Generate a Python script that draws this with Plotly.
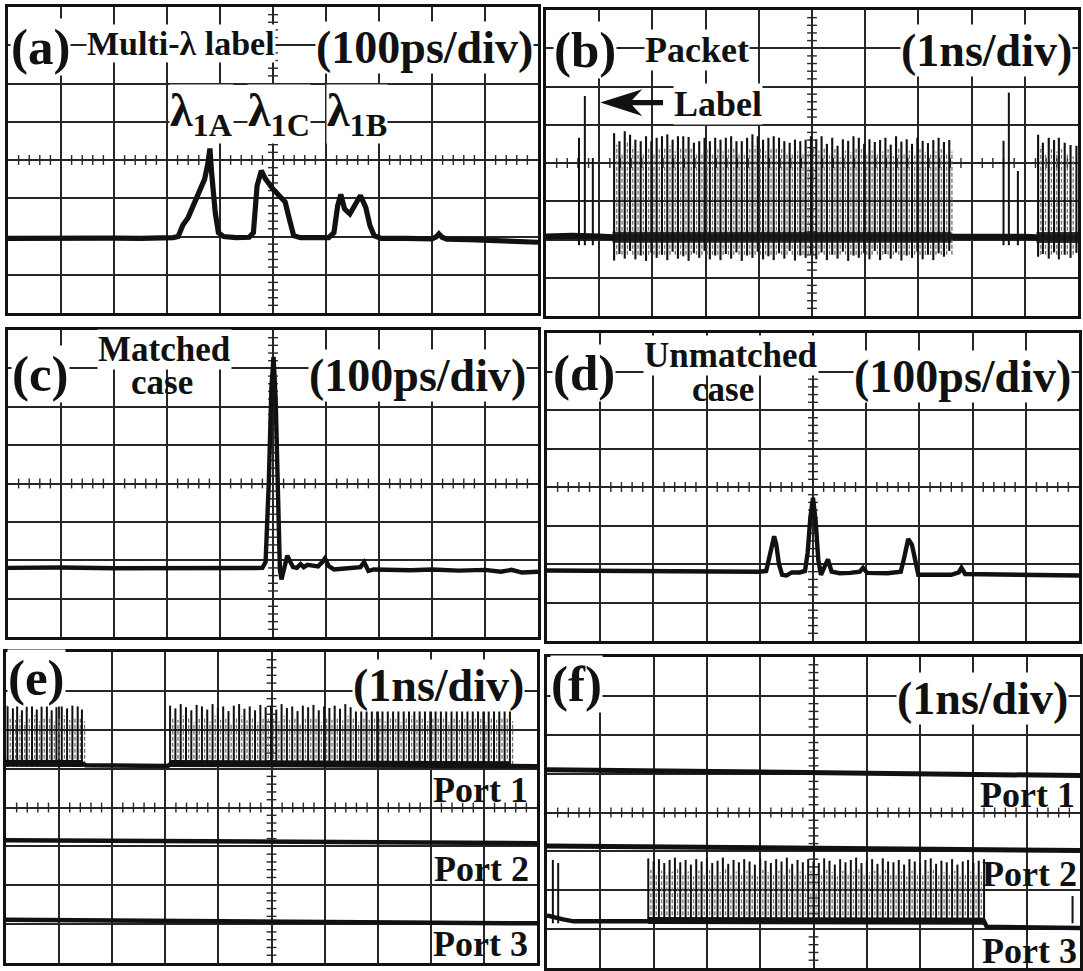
import plotly.graph_objects as go

# ---------------- data (oscilloscope divisions: x 0-10 div, y 0-8 div) ----------------
# (a) multi-wavelength label, 100 ps/div
a_time = [0.0, 0.5, 1.0, 1.5, 2.0, 2.5, 3.0, 3.12, 3.21, 3.3, 3.4, 3.5, 3.61, 3.71, 3.77, 3.81, 3.84, 3.91, 3.97, 4.07,
          4.3, 4.55, 4.63, 4.7, 4.78, 4.86, 5.0, 5.13, 5.23, 5.31, 5.39, 5.52,
          5.8, 6.05, 6.15, 6.22, 6.28, 6.35, 6.45, 6.55, 6.65, 6.75, 6.83, 6.91, 7.04,
          7.5, 8.0, 8.08, 8.13, 8.19, 8.28, 8.7, 9.2, 9.6, 10.0]
a_level = [1.95, 1.96, 1.94, 1.95, 1.96, 1.95, 1.95, 1.97, 2.0, 2.3, 2.5, 2.8, 3.15, 3.5, 3.9, 4.3, 3.7, 2.63, 2.1, 2.0,
           1.97, 1.98, 2.1, 3.33, 3.72, 3.5, 3.24, 3.07, 2.9, 2.45, 2.02, 1.97,
           1.96, 1.97, 2.1, 2.8, 3.1, 2.72, 2.59, 2.8, 3.07, 2.76, 2.28, 2.02, 1.95,
           1.95, 1.94, 1.99, 2.07, 1.98, 1.93, 1.92, 1.9, 1.87, 1.85]

# (b) packet with label, 1 ns/div
b_label_time = [0.62, 0.73, 0.88, 8.60, 8.70, 8.87]
b_label_peak = [4.66, 5.75, 4.13, 4.58, 5.84, 3.79]
b_payload_time = [1.28, 1.38, 1.48, 1.58, 1.68, 1.78, 1.88, 1.98, 2.08, 2.18,
                  2.28, 2.38, 2.48, 2.58, 2.68, 2.78, 2.88, 2.98, 3.08, 3.18,
                  3.28, 3.38, 3.48, 3.58, 3.68, 3.78, 3.88, 3.98, 4.08, 4.18,
                  4.28, 4.38, 4.48, 4.58, 4.68, 4.78, 4.88, 4.98, 5.08, 5.18,
                  5.28, 5.38, 5.48, 5.58, 5.68, 5.78, 5.88, 5.98, 6.08, 6.18,
                  6.28, 6.38, 6.48, 6.58, 6.68, 6.78, 6.88, 6.98, 7.08, 7.18,
                  7.28, 7.38, 7.48, 7.58,
                  9.25, 9.34, 9.45, 9.55, 9.64, 9.75, 9.86, 9.97]
b_payload_peak = [4.78, 4.57, 4.83, 4.74, 4.61, 4.57, 4.70, 4.57, 4.66, 4.70,
                  4.75, 4.61, 4.70, 4.70, 4.68, 4.53, 4.57, 4.66, 4.57, 4.66,
                  4.61, 4.66, 4.70, 4.57, 4.57, 4.66, 4.75, 4.70, 4.61, 4.66,
                  4.70, 4.66, 4.57, 4.53, 4.61, 4.57, 4.61, 4.70, 4.62, 4.70,
                  4.50, 4.66, 4.45, 4.62, 4.58, 4.70, 4.66, 4.50, 4.62, 4.55,
                  4.60, 4.66, 4.48, 4.70, 4.56, 4.62, 4.50, 4.66, 4.58, 4.52,
                  4.60, 4.66, 4.55, 4.60,
                  4.74, 4.53, 4.66, 4.60, 4.66, 4.53, 4.47, 4.45]
b_payload_floor = [1.45, 1.62, 1.50, 1.70, 1.48, 1.58, 1.44, 1.66, 1.52, 1.60,
                   1.46, 1.68, 1.50, 1.56, 1.44, 1.64, 1.52, 1.70, 1.48, 1.58,
                   1.46, 1.62, 1.50, 1.66, 1.44, 1.58, 1.52, 1.68, 1.48, 1.56,
                   1.46, 1.64, 1.50, 1.70, 1.45, 1.58, 1.52, 1.62, 1.48, 1.66,
                   1.46, 1.60, 1.50, 1.68, 1.44, 1.58, 1.52, 1.64, 1.48, 1.70,
                   1.46, 1.62, 1.50, 1.66, 1.45, 1.58, 1.52, 1.68, 1.48, 1.60,
                   1.46, 1.64, 1.55, 1.70,
                   1.55, 1.62, 1.50, 1.66, 1.48, 1.60, 1.52, 1.65]
b_base_time = [0.0, 0.5, 1.0, 1.25, 7.62, 8.2, 8.55, 9.0, 9.22, 10.0]
b_base_level = [2.08, 2.10, 2.08, 2.06, 2.07, 2.08, 2.10, 2.07, 2.06, 2.05]
b_band_time = [1.25, 4.5, 7.62, None, 9.22, 10.0]
b_band_level = [2.06, 2.07, 2.06, None, 2.05, 2.05]

# (c) matched case, 100 ps/div
c_time = [0.0, 1.0, 2.0, 3.0, 4.0, 4.8, 4.86, 4.92, 4.97, 5.01, 5.05, 5.09, 5.13, 5.16, 5.2,
          5.27, 5.33, 5.38, 5.45, 5.52, 5.58, 5.65, 5.75, 5.85, 5.93, 5.98, 6.05, 6.15, 6.3, 6.5,
          6.65, 6.72, 6.8, 6.9, 7.2, 7.6, 8.0, 8.5, 9.0, 9.3, 9.5, 9.7, 10.0]
c_level = [1.80, 1.81, 1.79, 1.80, 1.79, 1.80, 1.95, 4.0, 6.5, 7.3, 6.2, 3.5, 1.75, 1.5, 1.75,
           2.12, 1.95, 1.82, 1.80, 1.90, 1.82, 1.88, 1.86, 1.84, 1.95, 2.05, 1.85, 1.76, 1.78, 1.80,
           1.82, 1.95, 1.72, 1.76, 1.75, 1.74, 1.76, 1.73, 1.75, 1.70, 1.75, 1.68, 1.70]

# (d) unmatched case, 100 ps/div
d_time = [0.0, 1.0, 2.0, 3.0, 4.0, 4.12, 4.18, 4.23, 4.27, 4.31, 4.36, 4.42, 4.5, 4.6, 4.75,
          4.85, 4.9, 4.95, 5.0, 5.05, 5.1, 5.15, 5.22, 5.28, 5.35, 5.5, 5.7, 5.88, 5.94, 6.02,
          6.4, 6.65, 6.72, 6.79, 6.86, 6.92, 6.98, 7.2, 7.6, 7.74, 7.79, 7.86, 8.5, 9.0, 10.0]
d_level = [1.83, 1.82, 1.81, 1.81, 1.80, 1.82, 2.2, 2.6, 2.72, 2.5, 2.0, 1.72, 1.70, 1.78, 1.78,
           1.82, 2.3, 3.2, 3.72, 3.1, 2.1, 1.72, 1.95, 2.12, 1.80, 1.76, 1.77, 1.80, 1.90, 1.77,
           1.76, 1.80, 2.2, 2.65, 2.5, 2.05, 1.72, 1.72, 1.72, 1.78, 1.90, 1.74, 1.72, 1.72, 1.70]

# (e) port outputs (matched), 1 ns/div
e_payload_time = [0.03, 0.13, 0.21, 0.30, 0.39, 0.49, 0.58, 0.67, 0.77, 0.86,
                  0.95, 1.05, 1.15, 1.25, 1.35, 1.43,
                  3.09, 3.19, 3.29, 3.39, 3.49, 3.59, 3.69, 3.79, 3.89, 3.99,
                  4.09, 4.19, 4.29, 4.39, 4.49, 4.59, 4.69, 4.79, 4.89, 4.99,
                  5.09, 5.19, 5.29, 5.39, 5.49, 5.59, 5.69, 5.79, 5.89, 5.99,
                  6.09, 6.19, 6.29, 6.39, 6.49, 6.59, 6.69, 6.79, 6.89, 6.99,
                  7.09, 7.19, 7.29, 7.39, 7.49, 7.59, 7.69, 7.79, 7.89, 7.99,
                  8.09, 8.19, 8.29, 8.39, 8.49, 8.59, 8.69, 8.79, 8.89, 8.99,
                  9.09, 9.19, 9.29, 9.39, 9.49]
e_payload_peak = [6.62, 6.55, 6.66, 6.50, 6.60, 6.68, 6.52, 6.60, 6.64, 6.50,
                  6.58, 6.66, 6.55, 6.62, 6.60, 6.52,
                  6.62, 6.55, 6.66, 6.58, 6.50, 6.64, 6.60, 6.52, 6.66, 6.56,
                  6.60, 6.48, 6.62, 6.66, 6.54, 6.60, 6.50, 6.64, 6.58, 6.62,
                  6.52, 6.66, 6.56, 6.60, 6.48, 6.62, 6.58, 6.64, 6.50, 6.60,
                  6.56, 6.62, 6.54, 6.66, 6.58, 6.50, 6.62, 6.56, 6.60, 6.64,
                  6.52, 6.58, 6.62, 6.50, 6.60, 6.66, 6.56, 6.60, 6.52, 6.62,
                  6.58, 6.64, 6.50, 6.60, 6.56, 6.62, 6.54, 6.58, 6.64, 6.50,
                  6.60, 6.56, 6.62, 6.58, 6.52]
e_port1_time = [0.0, 1.45, 1.5, 3.05, 3.1, 9.5, 9.55, 10.0]
e_port1_level = [5.13, 5.12, 5.09, 5.07, 5.12, 5.09, 5.07, 5.06]
e_band_time = [0.0, 1.45, None, 3.09, 9.5]
e_band_level = [5.14, 5.13, None, 5.13, 5.10]
e_port2_time = [0.0, 5.0, 10.0]
e_port2_level = [3.16, 3.12, 3.08]
e_port3_time = [0.0, 5.0, 10.0]
e_port3_level = [1.11, 1.07, 1.02]

# (f) port outputs (unmatched), 1 ns/div
f_port1_time = [0.0, 5.0, 10.0]
f_port1_level = [5.10, 5.02, 4.95]
f_port2_time = [0.0, 5.0, 10.0]
f_port2_level = [3.14, 3.08, 3.02]
f_port3_time = [0.0, 0.08, 0.3, 0.5, 1.0, 1.88, 1.92, 8.2, 8.25, 9.0, 9.8, 10.0]
f_port3_level = [1.35, 1.32, 1.25, 1.2, 1.19, 1.2, 1.22, 1.2, 1.06, 1.05, 1.03, 1.03]
f_band_time = [1.9, 5.0, 8.2]
f_band_level = [1.22, 1.21, 1.2]
f_payload_time = [0.11, 0.21,
                  1.90, 2.00, 2.10, 2.20, 2.30, 2.40, 2.50, 2.60, 2.70, 2.80,
                  2.90, 3.00, 3.10, 3.20, 3.30, 3.40, 3.50, 3.60, 3.70, 3.80,
                  3.90, 4.00, 4.10, 4.20, 4.30, 4.40, 4.50, 4.60, 4.70, 4.80,
                  4.90, 5.00, 5.10, 5.20, 5.30, 5.40, 5.50, 5.60, 5.70, 5.80,
                  5.90, 6.00, 6.10, 6.20, 6.30, 6.40, 6.50, 6.60, 6.70, 6.80,
                  6.90, 7.00, 7.10, 7.20, 7.30, 7.40, 7.50, 7.60, 7.70, 7.80,
                  7.90, 8.00, 8.10, 8.20,
                  9.86]
f_payload_peak = [2.78, 2.70,
                  2.82, 2.74, 2.80, 2.70, 2.78, 2.84, 2.72, 2.78, 2.66, 2.80,
                  2.74, 2.82, 2.70, 2.76, 2.84, 2.68, 2.78, 2.72, 2.80, 2.74,
                  2.66, 2.82, 2.76, 2.70, 2.80, 2.74, 2.84, 2.68, 2.78, 2.72,
                  2.80, 2.74, 2.70, 2.82, 2.76, 2.66, 2.80, 2.72, 2.78, 2.84,
                  2.70, 2.76, 2.80, 2.68, 2.82, 2.74, 2.72, 2.78, 2.66, 2.80,
                  2.74, 2.70, 2.78, 2.82, 2.68, 2.76, 2.72, 2.80, 2.66, 2.74,
                  2.78, 2.70, 2.76, 2.80,
                  1.85]

# ---------------- layout of the six screens (pixels: left, right, top, bottom) ----------------
W, H = 1083, 971
PANELS = [(8, 538, 7, 313), (546, 1078, 10, 316),
          (8, 538, 330, 637), (547, 1079, 333, 641),
          (6, 537, 652, 963), (547, 1080, 657, 968)]
INK = "#111111"
GRID = "#262626"
FONT = "Liberation Serif"


def axref(i):
    return ("x" if i == 1 else f"x{i}"), ("y" if i == 1 else f"y{i}")


fig = go.Figure()
layout_axes = {}
for i, (l, r, t, b) in enumerate(PANELS, start=1):
    xr, yr = axref(i)
    common = dict(showgrid=True, gridcolor=GRID, gridwidth=1.5, zeroline=False,
                  showticklabels=False, ticks="", showline=True, mirror=True,
                  linecolor=INK, linewidth=2.5, fixedrange=True, tick0=0, dtick=1)
    layout_axes["xaxis" if i == 1 else f"xaxis{i}"] = dict(domain=[l / W, r / W], range=[0, 10], anchor=yr, **common)
    layout_axes["yaxis" if i == 1 else f"yaxis{i}"] = dict(domain=[1 - b / H, 1 - t / H], range=[0, 8], anchor=xr, **common)
    # graticule minor ticks on the centre cross
    hx = [k / 5 for k in range(1, 50) if k % 5]
    vy = [k / 5 for k in range(1, 40) if k % 5]
    fig.add_trace(go.Scatter(x=hx, y=[4] * len(hx), xaxis=xr, yaxis=yr, mode="markers",
                             marker=dict(symbol="line-ns", size=7, line=dict(width=1.4, color=GRID)),
                             hoverinfo="skip"))
    fig.add_trace(go.Scatter(x=[5] * len(vy), y=vy, xaxis=xr, yaxis=yr, mode="markers",
                             marker=dict(symbol="line-ew", size=7, line=dict(width=1.4, color=GRID)),
                             hoverinfo="skip"))


def trace_line(i, x, y, width, color=INK, opacity=1.0):
    xr, yr = axref(i)
    fig.add_trace(go.Scatter(x=x, y=y, xaxis=xr, yaxis=yr, mode="lines", opacity=opacity,
                             line=dict(color=color, width=width, shape="linear"), hoverinfo="skip"))


def comb(i, times, peaks, floors, width=1.4, color=INK, dash=None):
    xs, ys = [], []
    for tt, pk, fl in zip(times, peaks, floors):
        xs += [tt, tt, None]
        ys += [fl, pk, None]
    xr, yr = axref(i)
    fig.add_trace(go.Scatter(x=xs, y=ys, xaxis=xr, yaxis=yr, mode="lines",
                             line=dict(color=color, width=width, dash=dash), hoverinfo="skip"))


# (a)
trace_line(1, a_time, a_level, 5.2)
# (b)
b_ghost_t = [tt + 0.05 for tt in b_payload_time[:-1]]
comb(2, b_ghost_t, [pk - 0.3 for pk in b_payload_peak[:-1]], [1.6] * len(b_ghost_t), width=1.3, color="#6e6e6e", dash="4px,2px")
trace_line(2, b_base_time, b_base_level, 6)
trace_line(2, b_band_time, b_band_level, 11, color="#1c1c1c", opacity=0.9)
comb(2, b_payload_time, b_payload_peak, b_payload_floor, width=2.1)
comb(2, b_label_time, b_label_peak, [1.85] * len(b_label_time), width=2.0)
# (c)
trace_line(3, c_time, c_level, 4.4)
# (d)
trace_line(4, d_time, d_level, 4.4)
# (e)
e_ghost_t = [tt + 0.05 for tt in e_payload_time]
comb(5, e_ghost_t, [pk - 0.3 for pk in e_payload_peak], [5.1] * len(e_ghost_t), width=1.3, color="#6e6e6e", dash="4px,2px")
trace_line(5, e_port1_time, e_port1_level, 4.5)
trace_line(5, e_band_time, e_band_level, 7)
comb(5, e_payload_time, e_payload_peak, [5.05] * len(e_payload_time), width=2.0)
trace_line(5, e_port2_time, e_port2_level, 4.5)
trace_line(5, e_port3_time, e_port3_level, 4.5)
# (f)
trace_line(6, f_port1_time, f_port1_level, 5)
trace_line(6, f_port2_time, f_port2_level, 5)
f_ghost_t = [tt + 0.05 for tt in f_payload_time[2:-2]]
comb(6, f_ghost_t, [pk - 0.3 for pk in f_payload_peak[2:-2]], [1.2] * len(f_ghost_t), width=1.3, color="#6e6e6e", dash="4px,2px")
trace_line(6, f_port3_time, f_port3_level, 4.5)
trace_line(6, f_band_time, f_band_level, 7)
comb(6, f_payload_time, f_payload_peak, [1.15] * len(f_payload_time), width=2.0)

# ---------------- text ----------------
annotations = []


def label(i, text, x, y, size, xanchor="center", bg=True):
    xr, yr = axref(i)
    annotations.append(dict(text=f"<b>{text}</b>", x=x, y=y, xref=xr, yref=yr, showarrow=False,
                            xanchor=xanchor, yanchor="middle",
                            font=dict(family=FONT, size=size, color=INK),
                            bgcolor="white" if bg else "rgba(0,0,0,0)", borderpad=0))


TAG, BIG, MID = 51, 46, 36
label(1, "(a)", 0.04, 6.95, TAG, "left")
label(1, "Multi-λ label", 3.27, 7.05, 34)
label(1, "(100ps/div)", 9.92, 6.95, BIG, "right")
label(1, "λ<sub>1A</sub>", 3.65, 5.2, BIG)
label(1, "λ<sub>1C</sub>", 5.11, 5.2, BIG)
label(1, "λ<sub>1B</sub>", 6.58, 5.2, BIG)

label(2, "(b)", 0.13, 6.95, TAG, "left")
label(2, "Packet", 2.83, 6.95, MID)
label(2, "(1ns/div)", 9.91, 6.95, BIG, "right")
label(2, "Label", 2.38, 5.55, MID, "left")

label(3, "(c)", 0.05, 6.86, TAG, "left")
label(3, "case", 2.9, 6.62, 35, bg=False)
label(3, "Matched", 2.96, 7.48, 35)
label(3, "(100ps/div)", 9.8, 6.82, BIG, "right")

label(4, "(d)", 0.1, 6.96, TAG, "left")
label(4, "case", 3.3, 6.53, 35, bg=False)
label(4, "Unmatched", 3.46, 7.42, 35)
label(4, "(100ps/div)", 9.87, 6.88, BIG, "right")

label(5, "(e)", 0.02, 7.32, TAG, "left")
label(5, "(1ns/div)", 9.77, 7.14, BIG, "right")
label(5, "Port 1", 9.84, 4.46, MID, "right", bg=False)
label(5, "Port 2", 9.87, 2.43, MID, "right", bg=False)
label(5, "Port 3", 9.84, 0.49, MID, "right", bg=False)

label(6, "(f)", 0.06, 7.3, TAG, "left")
label(6, "(1ns/div)", 9.8, 6.92, BIG, "right")
label(6, "Port 1", 9.93, 4.45, MID, "right", bg=False)
label(6, "Port 2", 9.96, 2.43, MID, "right", bg=False)
label(6, "Port 3", 9.96, 0.45, MID, "right", bg=False)

# arrow pointing at the label pulses in (b)
arrow = dict(type="path", xref="x2", yref="y2", fillcolor=INK, line=dict(width=0), layer="above",
             path="M 1.02,5.58 L 1.81,5.93 L 1.62,5.65 L 2.2,5.65 L 2.2,5.51 L 1.62,5.51 L 1.81,5.23 Z")

fig.update_layout(width=W, height=H, margin=dict(l=0, r=0, t=0, b=0),
                  paper_bgcolor="white", plot_bgcolor="white", showlegend=False,
                  hovermode=False, annotations=annotations, shapes=[arrow], **layout_axes)

fig.write_html("out.html")
